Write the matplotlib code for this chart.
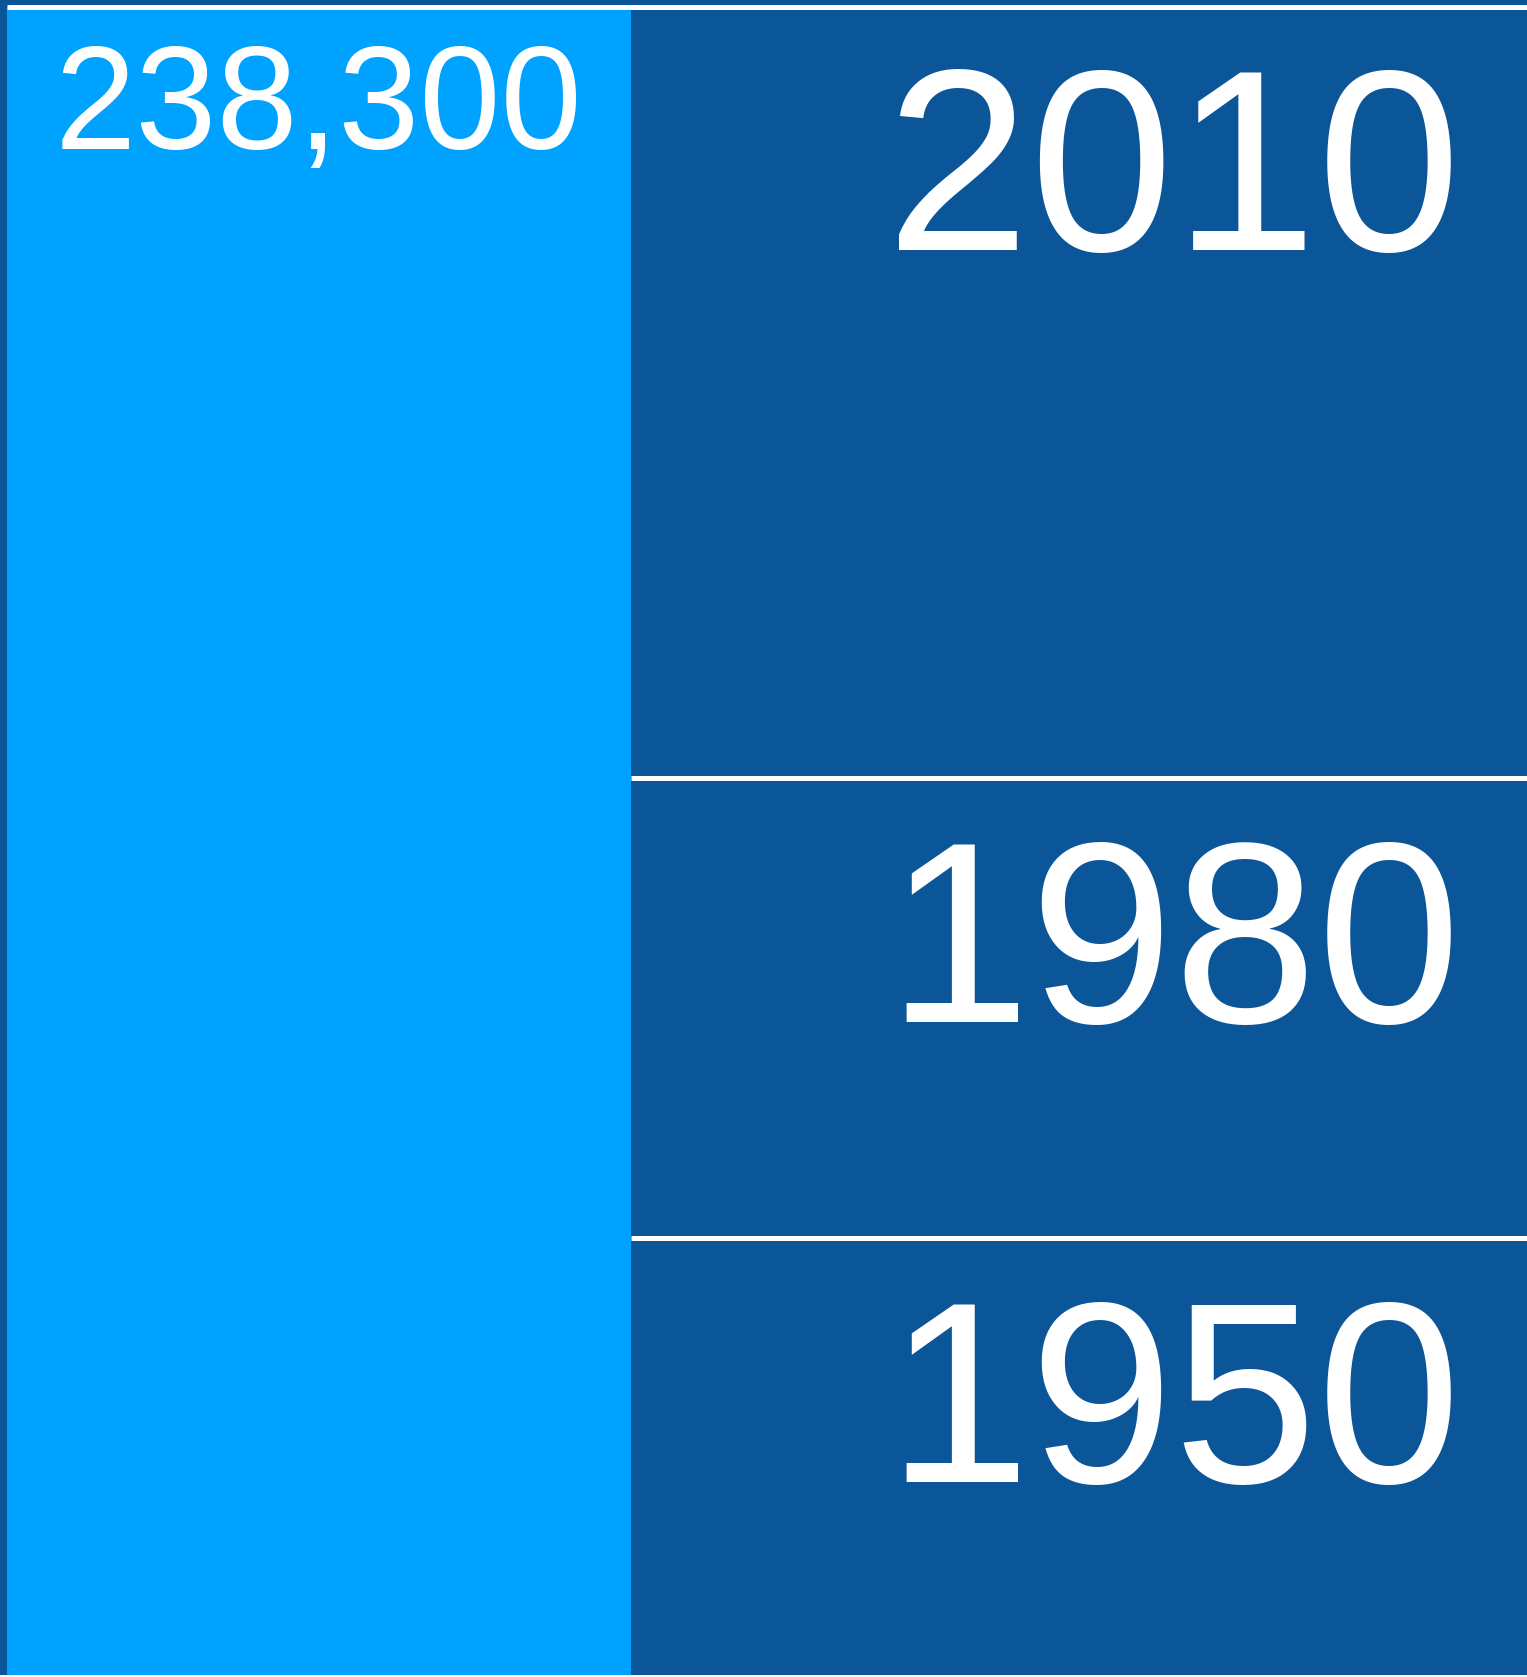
import matplotlib
matplotlib.use("Agg")
import matplotlib.pyplot as plt

# data
total_label = "238,300"
total_value = 238300
years = ["1950", "1980", "2010"]
year_values = [62400, 65700, 110200]

light_blue = "#00a2ff"
dark_blue = "#0b5699"

plt.rcParams['font.family'] = ['Liberation Sans', 'DejaVu Sans']

fig = plt.figure(figsize=(15.27, 16.77), dpi=100)
fig.patch.set_facecolor("white")
ax = fig.add_axes([0, 2 / 1677, 1, 1 - 2 / 1677])
ax.set_facecolor(dark_blue)

# left bar with the total
ax.bar(0, total_value, width=1, align="edge", color=light_blue, linewidth=0)
ax.annotate(total_label, xy=(0.5, total_value), xytext=(0, -26.5), textcoords="offset points",
            ha="center", va="top", color="white", fontsize=105)

# right stacked column
bottom = 0
for name, v in zip(years, year_values):
    ax.bar(1, v, width=1.436, bottom=bottom, align="edge", color=dark_blue, linewidth=0)
    top = bottom + v
    ax.annotate(name, xy=(2.33, top), xytext=(0, -41), textcoords="offset points",
                ha="right", va="top", color="white", fontsize=186)
    if top < total_value:
        ax.hlines(top, 1, 2.436, color="white", linewidth=3.6)
    bottom = top

ax.hlines(total_value, 0, 2.436, color="white", linewidth=3.6)

ax.set_xlim(-0.0112, 2.436)
ax.set_ylim(0, total_value * 1675 / 1668.5)
ax.set_xticks([])
ax.set_yticks([])
for s in ax.spines.values():
    s.set_visible(False)

fig.savefig("out.png", dpi=100, facecolor=fig.get_facecolor())
